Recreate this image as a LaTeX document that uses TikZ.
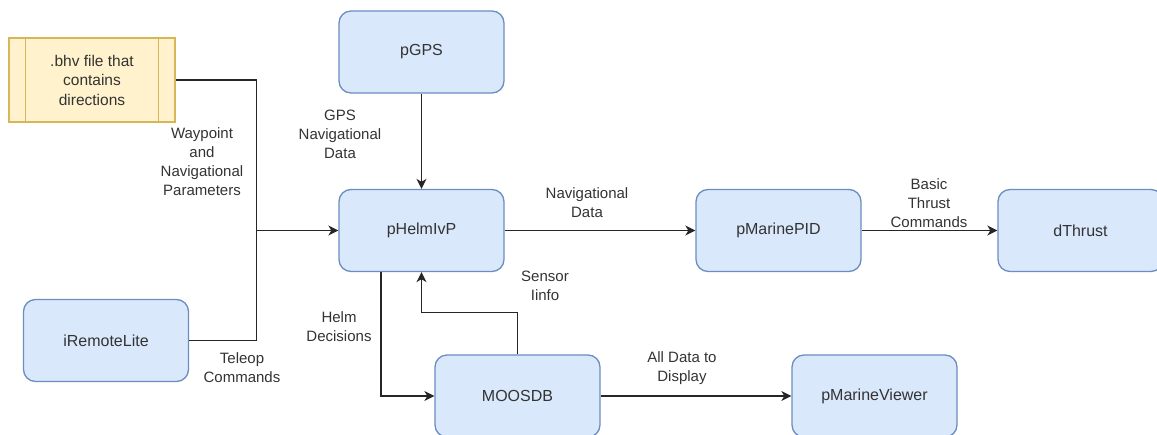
\documentclass[tikz,border=0pt]{standalone}
\usepackage{fontspec}
\setmainfont{Liberation Sans}
\usepackage{tikz}
\usetikzlibrary{arrows.meta}
\definecolor{Cb}{RGB}{218,232,252}
\definecolor{Cbd}{RGB}{108,142,191}
\definecolor{Cy}{RGB}{255,242,204}
\definecolor{Cyd}{RGB}{214,182,86}
\definecolor{Ct}{RGB}{51,51,51}

\tikzset{
  modbox/.style={draw=Cbd,fill=Cb,line width=1.3pt,rounded corners=12pt,
    minimum width=165pt,minimum height=82pt,text=Ct,
    font=\fontsize{16}{19}\selectfont},
  filebox/.style={draw=Cyd,fill=Cy,line width=1.3pt,
    minimum width=166pt,minimum height=84pt,align=center,text=Ct,
    font=\fontsize{15.5}{19.5}\selectfont},
  wire/.style={line width=1.4pt,black!85},
  flow/.style={wire,-{Stealth[length=10pt,width=10pt,inset=3pt]}},
  lbl/.style={align=center,text=Ct,inner sep=0pt,
    font=\fontsize{15}{19}\selectfont}
}

\begin{document}
\begin{tikzpicture}[x=1pt,y=-1pt]
    \useasboundingbox (0,0) rectangle (1157,434);
    % processes
    \foreach \n/\x/\y/\t in {gps/421.5/52/pGPS,helm/421.5/230.5/pHelmIvP,
        pid/778.5/230.5/pMarinePID,thrust/1080.5/230.5/dThrust,
        remote/106/340.5/iRemoteLite,moos/517.5/396/MOOSDB,
        viewer/874.5/396/pMarineViewer}{
      \node[modbox] (\n) at (\x,\y) {\t};
    }
    % behaviour file
    \node[filebox] (bhv) at (92,80) {.bhv file that\\contains\\directions};
    \foreach \s/\d in {west/17,east/-17}{
      \draw[Cyd,line width=1.3pt] ([xshift=\d pt]bhv.north \s)
        -- ([xshift=\d pt]bhv.south \s);
    }
    % inputs to the helm
    \coordinate (jn) at ([xshift=-82pt]helm.west);
    \draw[wire] (bhv.east) -| (jn) |- (remote.east);
    \draw[flow] (jn) -- (helm.west);
    \draw[flow] (gps) -- (helm);
    % helm outputs
    \draw[flow] (helm) -- (pid);
    \draw[flow] (pid) -- (thrust);
    \draw[flow] ([xshift=-40.5pt]helm.south) |- (moos.west);
    \draw[flow] (moos.north) -- ++(0,-42) -| (helm.south);
    \draw[flow] (moos) -- (viewer);
    % labels
    \node[lbl] (l_wp) at (202,162) {Waypoint\\and\\Navigational\\Parameters};
    \node[lbl] (l_tel) at (242,368) {Teleop\\Commands};
    \node[lbl] (l_gps) at (340,134) {GPS\\Navigational\\Data};
    \node[lbl] (l_nav) at (587,203) {Navigational\\Data};
    \node[lbl] (l_thr) at (929,203) {Basic\\Thrust\\Commands};
    \node[lbl] (l_sen) at (545,286) {Sensor\\Iinfo};
    \node[lbl] (l_helm) at (339,327) {Helm\\Decisions};
    \node[lbl] (l_all) at (682,368) {All Data to\\Display};
  \end{tikzpicture}
\end{document}
